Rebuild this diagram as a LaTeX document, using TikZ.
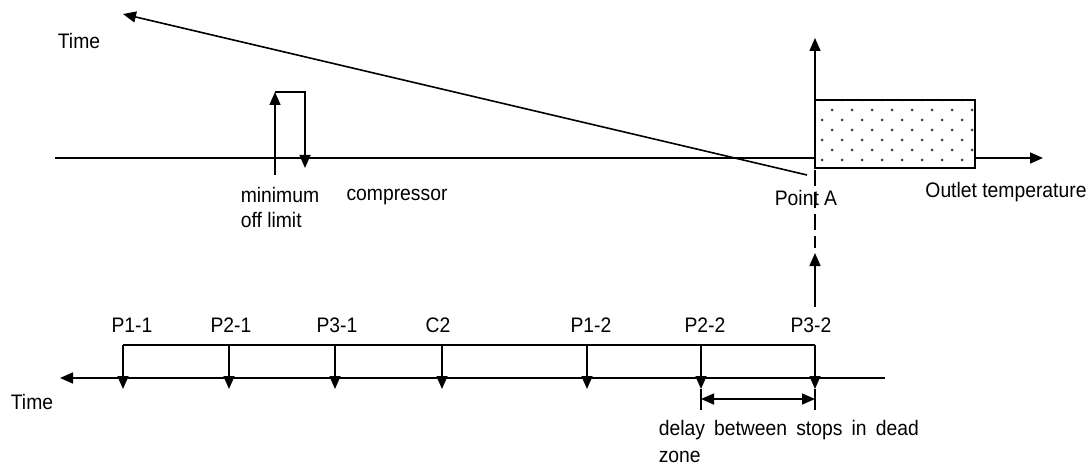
\documentclass[tikz,border=0pt]{standalone}
\usepackage{fontspec}
\setmainfont{Liberation Sans}
\newfontfamily\lblfont[FakeStretch=0.92]{Liberation Sans}
\usetikzlibrary{arrows.meta}
\begin{document}
\begin{tikzpicture}[x=1pt,y=-1pt, line width=1.6pt,
  >={Triangle[width=11pt,length=13pt]},
  lbl/.style={font=\lblfont\fontsize{21}{25}\selectfont, inner sep=0pt},
  tick/.style={->}]
\useasboundingbox (0,0) rectangle (1090,468);
% ---------- top chart ----------
\coordinate (hl) at (55,158); \coordinate (hr) at (1043,158);
\draw[->] (hl) -- (hr);
\coordinate (vb) at (815,158); \coordinate (vt) at (815,38);
\draw[->] (vb) -- (vt);
% dotted box
\coordinate (b1) at (815,100); \coordinate (b2) at (975,168);
\fill[white] (b1) rectangle (b2);
\begin{scope}
  \clip (b1) rectangle (b2);
  \foreach \r in {0,...,7}{
    \pgfmathsetmacro{\yy}{100+10*\r}
    \pgfmathsetmacro{\off}{mod(\r,2)==0 ? 7 : 17}
    \foreach \c in {0,...,8}{
      \fill[black!75] (815+\off+20*\c,\yy) circle (1.5pt);
    }
  }
\end{scope}
\draw (b1) rectangle (b2);
% diagonal time arrow
\coordinate (d1) at (807,175); \coordinate (d2) at (123,14);
\draw[->] (d1) -- (d2);
\node[lbl] (time1) at (79,41) {Time};
% minimum off limit pulse
\coordinate (p1) at (275,175); \coordinate (p2) at (275,92);
\coordinate (p3) at (305,92);  \coordinate (p4) at (305,168);
\draw[->] (p1) -- (p2);
\draw[->] (p2) -- (p3) -- (p4);
\node[lbl, align=left, anchor=north west] (minoff) at (240,186) {minimum\\off limit};
\node[lbl] (comp) at (397,197) {compressor};
% point A dashed line
\coordinate (da) at (815,170); \coordinate (db) at (815,248);
\draw[dash pattern=on 16pt off 6pt] (da) -- (db);
\node[lbl] (pointA) at (806,198) {Point A};
\node[lbl] (outlet) at (1006,192) {Outlet temperature};
% ---------- bottom chart ----------
\coordinate (tr) at (885,378); \coordinate (tl) at (60,378);
\draw[->] (tr) -- (tl);
\node[lbl] (time2) at (32,402) {Time};
\coordinate (bl) at (123,345); \coordinate (br) at (815,345);
\draw (bl) -- (br);
\foreach \x/\n/\lx in {123/P1-1/132, 229/P2-1/231, 335/P3-1/337, 442/C2/438, 587/P1-2/591, 701/P2-2/705, 815/P3-2/811}{
  \coordinate (t\n) at (\x,345);
  \coordinate (e\n) at (\x,389);
  \draw[tick] (t\n) -- (e\n);
  \node[lbl] (l\n) at (\lx,325) {\n};
}
\coordinate (ua) at (815,307); \coordinate (ub) at (815,253);
\draw[->] (ua) -- (ub);
% delay
\coordinate (x1) at (701,389); \coordinate (x2) at (701,410);
\coordinate (x3) at (815,389); \coordinate (x4) at (815,410);
\draw (x1) -- (x2); \draw (x3) -- (x4);
\coordinate (dl) at (701,399); \coordinate (dr) at (815,399);
\draw[<->] (dl) -- (dr);
\node[lbl, anchor=west] (delay) at (658,430) {\makebox[260pt][s]{delay between stops in dead}};
\node[lbl, anchor=west] (zone) at (658,457) {zone};
\end{tikzpicture}
\end{document}
